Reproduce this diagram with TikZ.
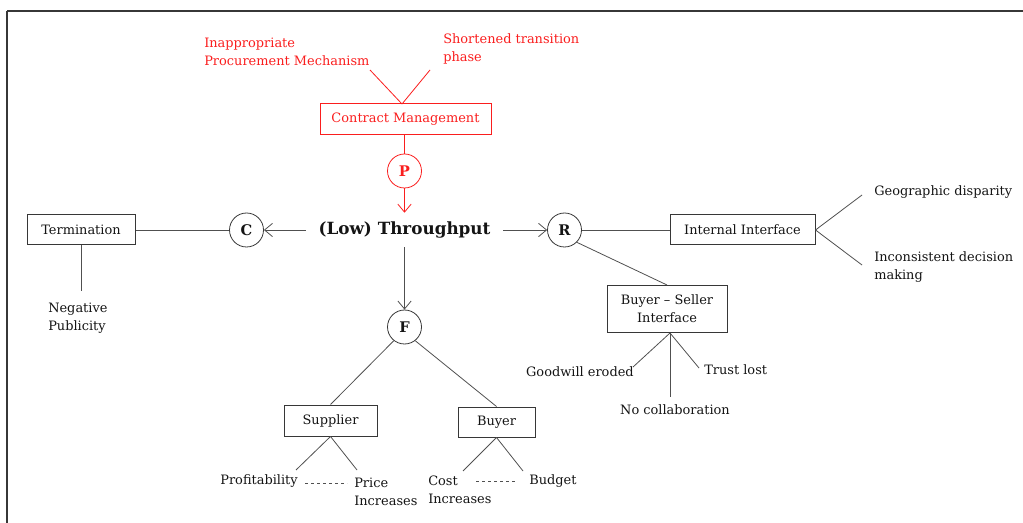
\documentclass[tikz,border=0pt]{standalone}
\usepackage{fontspec}
\setmainfont{DejaVu Serif}
\usetikzlibrary{arrows.meta,calc}
\definecolor{cred}{RGB}{250,30,30}
\definecolor{ink}{RGB}{20,20,20}
\definecolor{wire}{RGB}{80,80,80}
\definecolor{edge}{RGB}{55,55,55}
\begin{document}
\begin{tikzpicture}[x=0.75pt,y=-0.75pt,
  font=\fontsize{9.7}{13.5}\selectfont, text=ink,
  box/.style={draw=edge,line width=0.75pt,rectangle,inner sep=0pt,align=center},
  hub/.style={draw=edge,line width=0.6pt,circle,inner sep=0pt,minimum size=25.5pt,font=\fontsize{11}{13}\selectfont\bfseries},
  lbl/.style={inner sep=0pt,align=left},
  wire/.style={draw=wire,line width=0.6pt},
  arr/.style={wire,-{Straight Barb[length=6pt,width=10pt]}},
  dotted link/.style={draw=wire,line width=0.6pt,dash pattern=on 2.6pt off 1.9pt},
  redline/.style={draw=cred,line width=0.6pt},
]
\useasboundingbox (0,0) rectangle (1023,523);
% page frame (top and left rules)
\draw[edge,line width=1.1pt] (7,11) -- (1023,11);
\draw[edge,line width=1.1pt] (7,11) -- (7,523);

% ---- contract management branch (red) ----
\node[lbl,anchor=west,text=cred] (inap) at (204,51.5) {Inappropriate\\Procurement Mechanism};
\node[lbl,anchor=west,text=cred] (short) at (443,49) {Shortened transition\\phase};
\node[box,draw=cred,text=cred,minimum width=128.25pt,minimum height=23.25pt] (cm) at (405.5,119.5) {Contract Management};
\coordinate (inapE) at (370,70);
\coordinate (shortE) at (430,70);
\coordinate (cmTop) at (402,104);
\draw[redline] (inapE) -- (cmTop);
\draw[redline] (shortE) -- (cmTop);
\node[hub,draw=cred,text=cred] (P) at (404.5,171) {P};
\draw[redline] (cm.south -| P) -- (P.north);

% ---- central node ----
\node[inner sep=0pt,minimum width=147.75pt,minimum height=25.5pt,font=\fontsize{12.6}{14}\selectfont\bfseries] (tp) at (404.5,230) {(Low) Throughput};
\draw[redline,-{Straight Barb[length=6pt,width=10pt]}] (P.south) -- (tp.north);

% ---- C branch ----
\node[hub] (C) at (246.5,230) {C};
\node[box,minimum width=81pt,minimum height=22.5pt] (term) at (81,230) {Termination};
\draw[arr] (tp.west) -- (C.east);
\draw[wire] (C.west) -- (term.east);
\coordinate (termE) at (81,291);
\draw[wire] (term.south) -- (termE);
\node[lbl,anchor=west] (negpub) at (48,318) {Negative\\Publicity};

% ---- R branch ----
\node[hub] (R) at (564.5,230) {R};
\draw[arr] (tp.east) -- (R.west);
\node[box,minimum width=108.75pt,minimum height=22.5pt] (ii) at (742.5,230) {Internal Interface};
\draw[wire] (R.east) -- (ii.west);
\coordinate (geoE) at (862,195);
\coordinate (incE) at (862,265);
\draw[wire] (ii.east) -- (geoE);
\draw[wire] (ii.east) -- (incE);
\node[lbl,anchor=west] (geo) at (874,192) {Geographic disparity};
\node[lbl,anchor=west] (inc) at (874,267) {Inconsistent decision\\making};

\node[box,minimum width=90pt,minimum height=35.25pt] (bs) at (667,309) {Buyer -- Seller\\Interface};
\draw[wire] (R.-45) -- (bs.north);
\coordinate (bsFoot) at (670,333);
\coordinate (gwE) at (633,367);
\coordinate (ncE) at (670,397);
\coordinate (tlE) at (699,368);
\draw[wire] (bsFoot) -- (gwE);
\draw[wire] (bsFoot) -- (ncE);
\draw[wire] (bsFoot) -- (tlE);
\node[lbl,anchor=east] (gw) at (634,372) {Goodwill eroded};
\node[lbl,anchor=west] (tl) at (704,370) {Trust lost};
\node[lbl] (nc) at (675,410) {No collaboration};

% ---- F branch ----
\node[hub] (F) at (404.5,327) {F};
\draw[arr] (tp.south) -- (F.north);
\node[box,minimum width=69.75pt,minimum height=23.25pt] (sup) at (330.5,420.5) {Supplier};
\node[box,minimum width=57.75pt,minimum height=22.5pt] (buy) at (496.5,422) {Buyer};
\draw[wire] (F.-128) -- (sup.north);
\draw[wire] (F.-52) -- (buy.north);
\coordinate (profE) at (296,470);
\coordinate (priceE) at (357,470);
\coordinate (costE) at (463,471);
\coordinate (budE) at (523,471);
\draw[wire] (sup.south) -- (profE);
\draw[wire] (sup.south) -- (priceE);
\draw[wire] (buy.south) -- (costE);
\draw[wire] (buy.south) -- (budE);
\node[lbl,anchor=east] (prof) at (298,481) {Profitability};
\node[lbl,anchor=west] (price) at (354,492) {Price\\Increases};
\node[lbl,anchor=west] (cost) at (428,490) {Cost\\Increases};
\node[lbl,anchor=west] (bud) at (529,481) {Budget};
\coordinate (d1a) at (305,483);
\coordinate (d1b) at (347,483);
\coordinate (d2a) at (476,481);
\coordinate (d2b) at (517,481);
\draw[dotted link] (d1a) -- (d1b);
\draw[dotted link] (d2a) -- (d2b);
\end{tikzpicture}
\end{document}
